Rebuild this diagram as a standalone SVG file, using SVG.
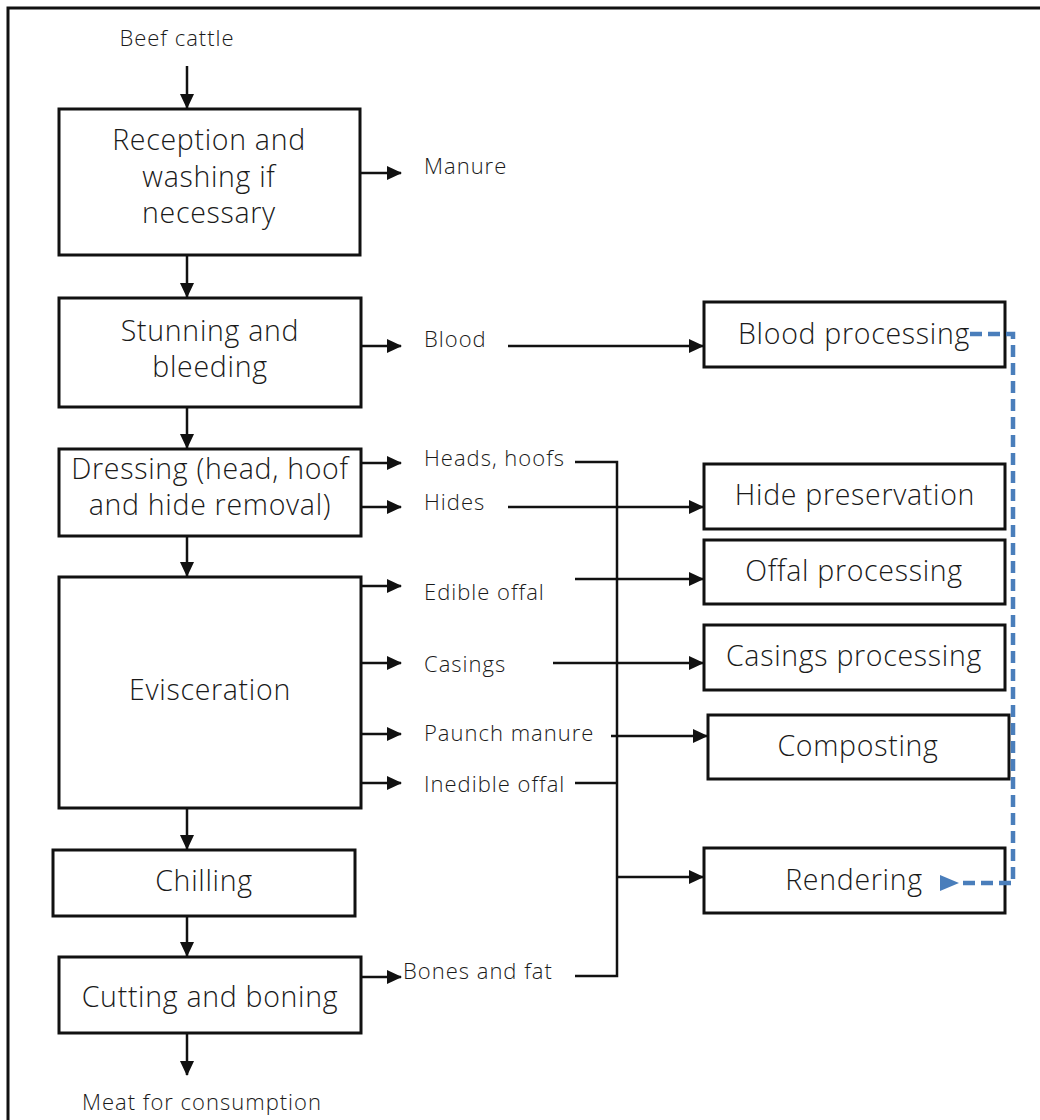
<svg xmlns="http://www.w3.org/2000/svg" width="1040" height="1120" viewBox="0 0 1040 1120">
  <style>
    .box { fill: #ffffff; stroke: #111111; stroke-width: 3; }
    .big { font-family: "Open Sans", "Noto Sans", "Liberation Sans", sans-serif; font-weight: 350; font-size: 28.5px; letter-spacing: 0.7px; fill: #1a1a1a; text-anchor: middle; }
    .lbl { font-family: "Open Sans", "Noto Sans", "Liberation Sans", sans-serif; font-weight: 350; font-size: 22px; letter-spacing: 1px; fill: #1a1a1a; }
    .ln { fill: none; stroke: #111111; stroke-width: 2.5; }
    .arr { fill: none; stroke: #111111; stroke-width: 2.5; marker-end: url(#ah); }
    .dash { fill: none; stroke: #4a7ebb; stroke-width: 4.5; stroke-dasharray: 12 6; }
  </style>
  <defs>
    <marker id="ah" markerUnits="userSpaceOnUse" markerWidth="16" markerHeight="16" refX="14" refY="8" orient="auto">
      <path d="M0,1 L15,8 L0,15 Z" fill="#111111"/>
    </marker>
    <marker id="ahb" markerUnits="userSpaceOnUse" markerWidth="22" markerHeight="20" refX="2" refY="10" orient="auto">
      <path d="M20,2 L1,10 L20,18 Z" fill="#4a7ebb"/>
    </marker>
  </defs>

  <rect width="1040" height="1120" fill="#ffffff"/>
  <!-- outer frame (top and left edges) -->
  <path d="M8,1120 V8 H1040" fill="none" stroke="#111111" stroke-width="3"/>

  <!-- main line nodes -->
  <g id="in-label"><text class="lbl" x="177" y="46" text-anchor="middle">Beef cattle</text></g>
  <g id="reception">
    <rect class="box" x="59" y="109" width="301" height="146"/>
    <text class="big" x="209" y="150">Reception and</text>
    <text class="big" x="209" y="187">washing if</text>
    <text class="big" x="209" y="223">necessary</text>
  </g>
  <g id="stunning">
    <rect class="box" x="59" y="298" width="302" height="109"/>
    <text class="big" x="210" y="341">Stunning and</text>
    <text class="big" x="210" y="377">bleeding</text>
  </g>
  <g id="dressing">
    <rect class="box" x="59" y="449" width="302" height="87"/>
    <text class="big" x="210" y="479">Dressing (head, hoof</text>
    <text class="big" x="210" y="515">and hide removal)</text>
  </g>
  <g id="evisceration">
    <rect class="box" x="59" y="577" width="302" height="231"/>
    <text class="big" x="210" y="700">Evisceration</text>
  </g>
  <g id="chilling">
    <rect class="box" x="53" y="850" width="302" height="66"/>
    <text class="big" x="204" y="891">Chilling</text>
  </g>
  <g id="cutting">
    <rect class="box" x="59" y="957" width="302" height="76"/>
    <text class="big" x="210" y="1007">Cutting and boning</text>
  </g>
  <g id="out-label"><text class="lbl" x="202" y="1110" text-anchor="middle">Meat for consumption</text></g>

  <!-- by-product labels -->
  <g id="manure"><text class="lbl" x="424" y="174">Manure</text></g>
  <g id="blood"><text class="lbl" x="424" y="347">Blood</text></g>
  <g id="heads"><text class="lbl" x="424" y="466">Heads, hoofs</text></g>
  <g id="hides"><text class="lbl" x="424" y="510">Hides</text></g>
  <g id="edible"><text class="lbl" x="424" y="600">Edible offal</text></g>
  <g id="casings"><text class="lbl" x="424" y="672">Casings</text></g>
  <g id="paunch"><text class="lbl" x="424" y="741">Paunch manure</text></g>
  <g id="inedible"><text class="lbl" x="424" y="792">Inedible offal</text></g>
  <g id="bones"><text class="lbl" x="403" y="979">Bones and fat</text></g>

  <!-- processing nodes -->
  <g id="blood-processing">
    <rect class="box" x="704" y="302" width="301" height="65"/>
    <text class="big" x="854" y="344">Blood processing</text>
  </g>
  <g id="hide-preservation">
    <rect class="box" x="704" y="464" width="301" height="65"/>
    <text class="big" x="855" y="505">Hide preservation</text>
  </g>
  <g id="offal-processing">
    <rect class="box" x="704" y="540" width="301" height="64"/>
    <text class="big" x="854" y="581">Offal processing</text>
  </g>
  <g id="casings-processing">
    <rect class="box" x="704" y="625" width="301" height="65"/>
    <text class="big" x="854" y="666">Casings processing</text>
  </g>
  <g id="composting">
    <rect class="box" x="708" y="715" width="301" height="64"/>
    <text class="big" x="858" y="756">Composting</text>
  </g>
  <g id="rendering">
    <rect class="box" x="704" y="848" width="301" height="65"/>
    <text class="big" x="854" y="890">Rendering</text>
  </g>

  <!-- connectors -->
  <g id="connectors">
    <path class="arr" d="M187,66 V108"/>
    <path class="arr" d="M187,255 V297"/>
    <path class="arr" d="M187,407 V448"/>
    <path class="arr" d="M187,536 V576"/>
    <path class="arr" d="M187,808 V849"/>
    <path class="arr" d="M187,916 V956"/>
    <path class="arr" d="M187,1033 V1075"/>

    <path class="arr" d="M361,173 H401"/>
    <path class="arr" d="M361,346 H401"/>
    <path class="arr" d="M361,463 H401"/>
    <path class="arr" d="M361,507 H401"/>
    <path class="arr" d="M361,586 H401"/>
    <path class="arr" d="M361,663 H401"/>
    <path class="arr" d="M361,734 H401"/>
    <path class="arr" d="M361,783 H401"/>
    <path class="arr" d="M361,977 H401"/>

    <path class="arr" d="M508,346 H703"/>
    <path class="arr" d="M508,507 H703"/>
    <path class="arr" d="M575,579 H703"/>
    <path class="arr" d="M553,663 H703"/>
    <path class="arr" d="M611,736 H707"/>

    <!-- collector to rendering -->
    <path class="ln" d="M575,462 H617 V976 H575"/>
    <path class="ln" d="M575,783 H617"/>
    <path class="arr" d="M617,877 H703"/>

    <!-- blood to rendering -->
    <path class="dash" d="M970,334 H1013 V883 H958" marker-end="url(#ahb)"/>
  </g>
</svg>
